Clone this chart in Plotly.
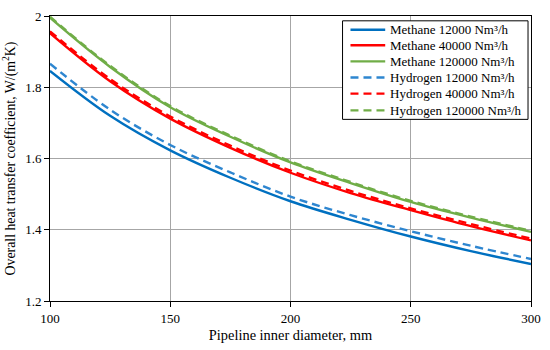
import plotly.graph_objects as go

diameter = [100, 125, 150, 175, 200, 225, 250, 275, 300]

methane_12000 = [1.846, 1.720, 1.623, 1.546, 1.480, 1.428, 1.381, 1.340, 1.304]
methane_40000 = [1.952, 1.817, 1.712, 1.630, 1.560, 1.503, 1.455, 1.410, 1.370]
methane_120000 = [1.995, 1.857, 1.744, 1.661, 1.589, 1.531, 1.478, 1.434, 1.394]
hydrogen_12000 = [1.866, 1.737, 1.638, 1.561, 1.493, 1.441, 1.396, 1.355, 1.318]
hydrogen_40000 = [1.957, 1.823, 1.718, 1.636, 1.566, 1.509, 1.460, 1.416, 1.375]
hydrogen_120000 = [1.998, 1.860, 1.747, 1.664, 1.592, 1.534, 1.481, 1.437, 1.397]

series_names = [
    "Methane 12000 Nm³/h", "Methane 40000 Nm³/h", "Methane 120000 Nm³/h",
    "Hydrogen 12000 Nm³/h", "Hydrogen 40000 Nm³/h", "Hydrogen 120000 Nm³/h",
]
series_values = [methane_12000, methane_40000, methane_120000,
                 hydrogen_12000, hydrogen_40000, hydrogen_120000]
series_colors = ["#0070C0", "#FF0000", "#70AD47", "#2E86D0", "#FF0000", "#70AD47"]
series_dash = ["solid", "solid", "solid", "8px,5px", "8px,5px", "8px,5px"]

family = "Liberation Serif, Times New Roman, serif"
font = dict(family=family, size=13, color="black")
xtitle_font = dict(family=family, size=14.4, color="black")
ytitle_font = dict(family=family, size=13.8, color="black")

fig = go.Figure()
for name, vals, color, dash in zip(series_names, series_values, series_colors, series_dash):
    fig.add_trace(go.Scatter(
        x=diameter, y=vals, name=name, mode="lines", showlegend=False,
        line=dict(color=color, width=2.4, dash=dash, shape="spline"),
    ))

# Custom legend (box, line samples, labels) in paper coordinates
shapes = [dict(type="rect", xref="paper", yref="paper",
               x0=0.6082, x1=0.9938, y0=0.6373, y1=0.9831,
               line=dict(color="black", width=1), fillcolor="white", layer="above")]
annotations = []
row_y = [0.9515, 0.8973, 0.8407, 0.7841, 0.7278, 0.6688]
for name, color, dash, yy in zip(series_names, series_colors, series_dash, row_y):
    shapes.append(dict(type="line", xref="paper", yref="paper",
                       x0=0.6247, x1=0.6969, y0=yy, y1=yy, layer="above",
                       line=dict(color=color, width=2.4, dash=dash)))
    annotations.append(dict(xref="paper", yref="paper", x=0.7031, y=yy,
                            xanchor="left", yanchor="middle", showarrow=False,
                            text=name, font=font))

fig.update_layout(
    width=550, height=350,
    margin=dict(l=50, r=15, t=9, b=46),
    paper_bgcolor="white", plot_bgcolor="white",
    font=font,
    showlegend=False,
    shapes=shapes,
    annotations=annotations,
    xaxis=dict(
        range=[100, 300], tick0=100, dtick=50,
        showgrid=True, gridcolor="#A6A6A6", gridwidth=1,
        showline=True, linecolor="black", linewidth=1, mirror=True,
        ticks="outside", ticklen=5, tickcolor="black",
        zeroline=False, ticklabeloverflow="allow",
        title=dict(text="Pipeline inner diameter, mm", font=xtitle_font, standoff=5),
    ),
    yaxis=dict(
        range=[1.2, 2.0], tick0=1.2, dtick=0.2,
        showgrid=True, gridcolor="#A6A6A6", gridwidth=1,
        showline=True, linecolor="black", linewidth=1, mirror=True,
        ticks="outside", ticklen=5, tickcolor="black",
        zeroline=False, ticklabeloverflow="allow",
        title=dict(text="Overall heat transfer coefficient, W/(m<sup>2</sup>K)", font=ytitle_font, standoff=6),
    ),
)

fig.write_html(
    "out.html",
    config={"displayModeBar": False},
    post_script="document.body.style.margin='0';document.documentElement.style.overflow='hidden';",
)
